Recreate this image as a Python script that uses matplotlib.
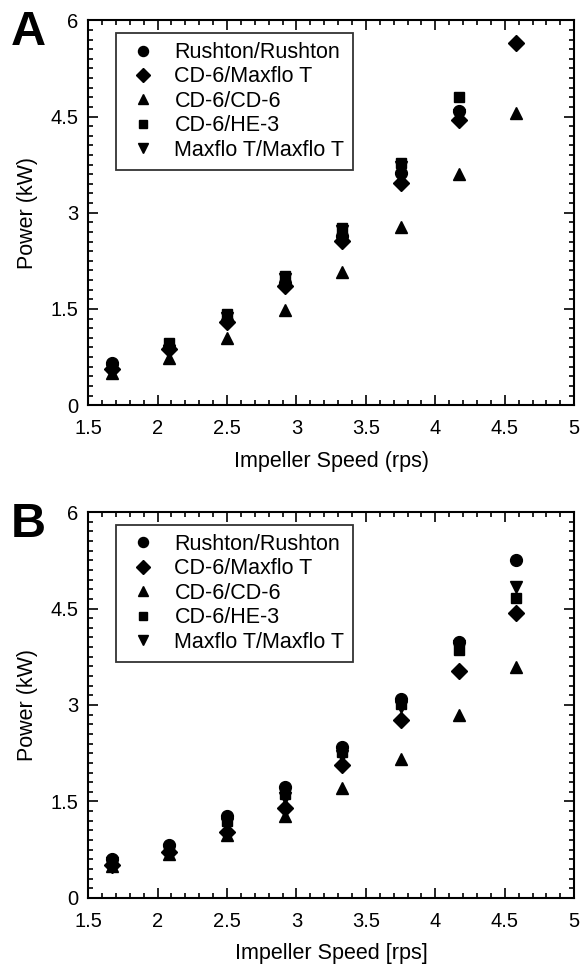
import numpy as np
import matplotlib
matplotlib.use("Agg")
import matplotlib.pyplot as plt
from matplotlib.ticker import MultipleLocator

plt.rcParams['font.family'] = ['Liberation Sans', 'DejaVu Sans']

# impeller speed (rps)
speed = [1.67, 2.08, 2.5, 2.92, 3.33, 3.75, 4.17, 4.58]

labels = ["Rushton/Rushton", "CD-6/Maxflo T", "CD-6/CD-6", "CD-6/HE-3", "Maxflo T/Maxflo T"]
markers = ["o", "D", "^", "s", "v"]

# panel A, power (kW)
a_rushton = [0.66, 0.90, 1.32, 1.90, 2.64, 3.62, 4.58, np.nan]
a_cd6_maxflo = [0.56, 0.88, 1.30, 1.86, 2.56, 3.46, 4.45, 5.64]
a_cd6_cd6 = [0.50, 0.73, 1.04, 1.48, 2.07, 2.77, 3.60, 4.56]
a_cd6_he3 = [0.60, 0.97, 1.42, 2.02, 2.76, 3.78, 4.80, np.nan]
a_maxflo = [0.55, 0.85, 1.36, 1.96, 2.72, 3.72, 4.52, np.nan]

# panel B, power (kW)
b_rushton = [0.60, 0.82, 1.27, 1.73, 2.34, 3.10, 3.98, 5.26]
b_cd6_maxflo = [0.52, 0.72, 1.03, 1.40, 2.07, 2.77, 3.53, 4.43]
b_cd6_cd6 = [0.50, 0.68, 0.98, 1.27, 1.71, 2.16, 2.85, 3.59]
b_cd6_he3 = [0.57, 0.78, 1.20, 1.62, 2.27, 3.02, 3.86, 4.67]
b_maxflo = [0.55, 0.75, 1.15, 1.55, 2.20, 2.97, 3.92, 4.84]

panel_a = [a_rushton, a_cd6_maxflo, a_cd6_cd6, a_cd6_he3, a_maxflo]
panel_b = [b_rushton, b_cd6_maxflo, b_cd6_cd6, b_cd6_he3, b_maxflo]


def draw(ax, series, xlabel):
    sizes = [8.5, 8, 8.5, 7, 8.5]
    for vals, m, lab, s in zip(series, markers, labels, sizes):
        ax.plot(speed, vals, linestyle="none", marker=m, color="black",
                markersize=s, label=lab)
    ax.set_xlim(1.5, 5)
    ax.set_ylim(0, 6)
    ax.xaxis.set_minor_locator(MultipleLocator(0.1))
    ax.yaxis.set_minor_locator(MultipleLocator(0.15))
    ax.set_xticks([1.5, 2, 2.5, 3, 3.5, 4, 4.5, 5])
    ax.set_xticklabels(["1.5", "2", "2.5", "3", "3.5", "4", "4.5", "5"])
    ax.set_yticks([0, 1.5, 3, 4.5, 6])
    ax.set_yticklabels(["0", "1.5", "3", "4.5", "6"])
    ax.tick_params(which="both", direction="in", top=True, right=True,
                   labelsize=14.5, width=1.2)
    ax.tick_params(which="major", length=7)
    ax.tick_params(which="minor", length=3.5)
    ax.tick_params(axis="x", which="major", pad=10)
    ax.tick_params(axis="y", which="major", pad=7)
    for sp in ax.spines.values():
        sp.set_linewidth(1.5)
    ax.set_xlabel(xlabel, fontsize=15.5, labelpad=9)
    ax.set_ylabel("Power (kW)", fontsize=15.5, labelpad=9)
    leg = ax.legend(loc="upper left", bbox_to_anchor=(0.057, 0.967), fontsize=15.5,
                    frameon=True, fancybox=False, edgecolor="black",
                    handletextpad=0.6, labelspacing=0.16, borderpad=0.42,
                    handlelength=1.7, markerscale=0.85, borderaxespad=0)
    leg.get_frame().set_linewidth(1.3)


fig = plt.figure(figsize=(5.8, 9.67), dpi=100)
ax1 = fig.add_axes([0.152, 0.581, 0.838, 0.398])
ax2 = fig.add_axes([0.152, 0.0714, 0.838, 0.3991])

draw(ax1, panel_a, "Impeller Speed (rps)")
draw(ax2, panel_b, "Impeller Speed [rps]")

fig.text(0.018, 0.99, "A", fontsize=35, fontweight="bold", va="top", ha="left")
fig.text(0.018, 0.481, "B", fontsize=35, fontweight="bold", va="top", ha="left")

fig.savefig("out.png", dpi=100)
